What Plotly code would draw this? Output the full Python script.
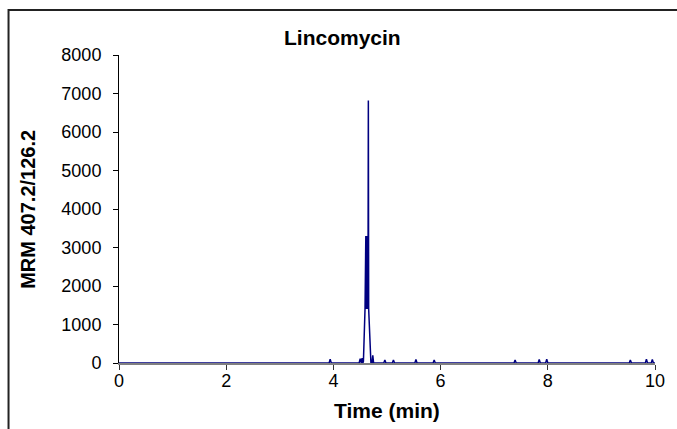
import plotly.graph_objects as go

# Chromatogram points (time in min, intensity)
time_min = [0.00, 3.92, 3.94, 3.96,
            4.48, 4.50, 4.52, 4.535, 4.55, 4.56,
            4.59, 4.595, 4.60, 4.605, 4.61, 4.615, 4.62, 4.625, 4.63, 4.635, 4.64,
            4.645, 4.652, 4.658, 4.70, 4.72, 4.735, 4.75,
            4.94, 4.96, 4.98, 5.10, 5.12, 5.14, 5.52, 5.54, 5.56, 5.86, 5.88, 5.90,
            7.37, 7.39, 7.41, 7.82, 7.84, 7.86, 7.96, 7.98, 8.00,
            9.52, 9.54, 9.56, 9.82, 9.84, 9.86, 9.93, 9.95, 9.97, 10.00]
intensity = [0, 0, 100, 0,
             0, 110, 0, 130, 0, 40,
             1400, 3300, 1420, 3300, 1400, 3300, 1430, 3300, 1400, 3300, 1420,
             1450, 6820, 1400, 0, 0, 200, 0,
             0, 80, 0, 0, 80, 0, 0, 90, 0, 0, 80, 0,
             0, 80, 0, 0, 90, 0, 0, 100, 0,
             0, 80, 0, 0, 100, 0, 0, 90, 0, 0]

x_ticks = [0, 2, 4, 6, 8, 10]
y_ticks = [0, 1000, 2000, 3000, 4000, 5000, 6000, 7000, 8000]

title_text = "Lincomycin"
x_title = "Time (min)"
y_title = "MRM 407.2/126.2"

FONT = "Liberation Sans, Arial, sans-serif"

fig = go.Figure()
fig.add_trace(go.Scatter(x=time_min, y=intensity, mode="lines",
                         line=dict(color="#000080", width=1.5),
                         showlegend=False, hoverinfo="skip"))

W, H = 677, 429
L, R, T, B = 119, 17, 55, 66
pw, ph = W - L - R, H - T - B

def px_to_paper_x(px):
    return (px - L) / pw

def py_to_paper_y(py):
    return (H - B - py) / ph

fig.update_layout(
    width=W, height=H,
    margin=dict(l=L, r=R, t=T, b=B, pad=0),
    paper_bgcolor="white", plot_bgcolor="white",
    font=dict(family=FONT, size=18, color="black"),
    xaxis=dict(range=[0, 10], tickvals=x_ticks, ticktext=[str(v) for v in x_ticks],
               showgrid=False, zeroline=False, showline=True, linecolor="#808080",
               linewidth=1.5, ticks="outside", ticklen=5, tickcolor="#333333",
               ticklabelstandoff=-4,
               tickfont=dict(family=FONT, size=18), fixedrange=True),
    yaxis=dict(range=[0, 8000], tickvals=y_ticks, ticktext=[str(v) for v in y_ticks],
               showgrid=False, zeroline=False, showline=True, linecolor="black",
               linewidth=1, ticks="outside", ticklen=5, tickcolor="black",
               ticklabelstandoff=8,
               tickfont=dict(family=FONT, size=18), fixedrange=True),
    shapes=[dict(type="rect", xref="paper", yref="paper",
                 x0=px_to_paper_x(7.5), x1=px_to_paper_x(W + 20),
                 y0=py_to_paper_y(H + 20), y1=py_to_paper_y(10),
                 line=dict(color="#222222", width=2), layer="above")],
    annotations=[
        dict(text="<b>" + title_text + "</b>", xref="paper", yref="paper",
             x=px_to_paper_x(345), y=py_to_paper_y(38), xanchor="center", yanchor="middle",
             showarrow=False, font=dict(family=FONT, size=21)),
        dict(text="<b>" + x_title + "</b>", xref="paper", yref="paper",
             x=px_to_paper_x(390), y=py_to_paper_y(410), xanchor="center", yanchor="middle",
             showarrow=False, font=dict(family=FONT, size=21)),
        dict(text="<b>" + y_title + "</b>", xref="paper", yref="paper",
             x=px_to_paper_x(27), y=0.5, xanchor="center", yanchor="middle",
             textangle=-90, showarrow=False, font=dict(family=FONT, size=20)),
    ],
)

fig.write_html("out.html", config={"displayModeBar": False},
               post_script="document.body.style.margin='0';")
